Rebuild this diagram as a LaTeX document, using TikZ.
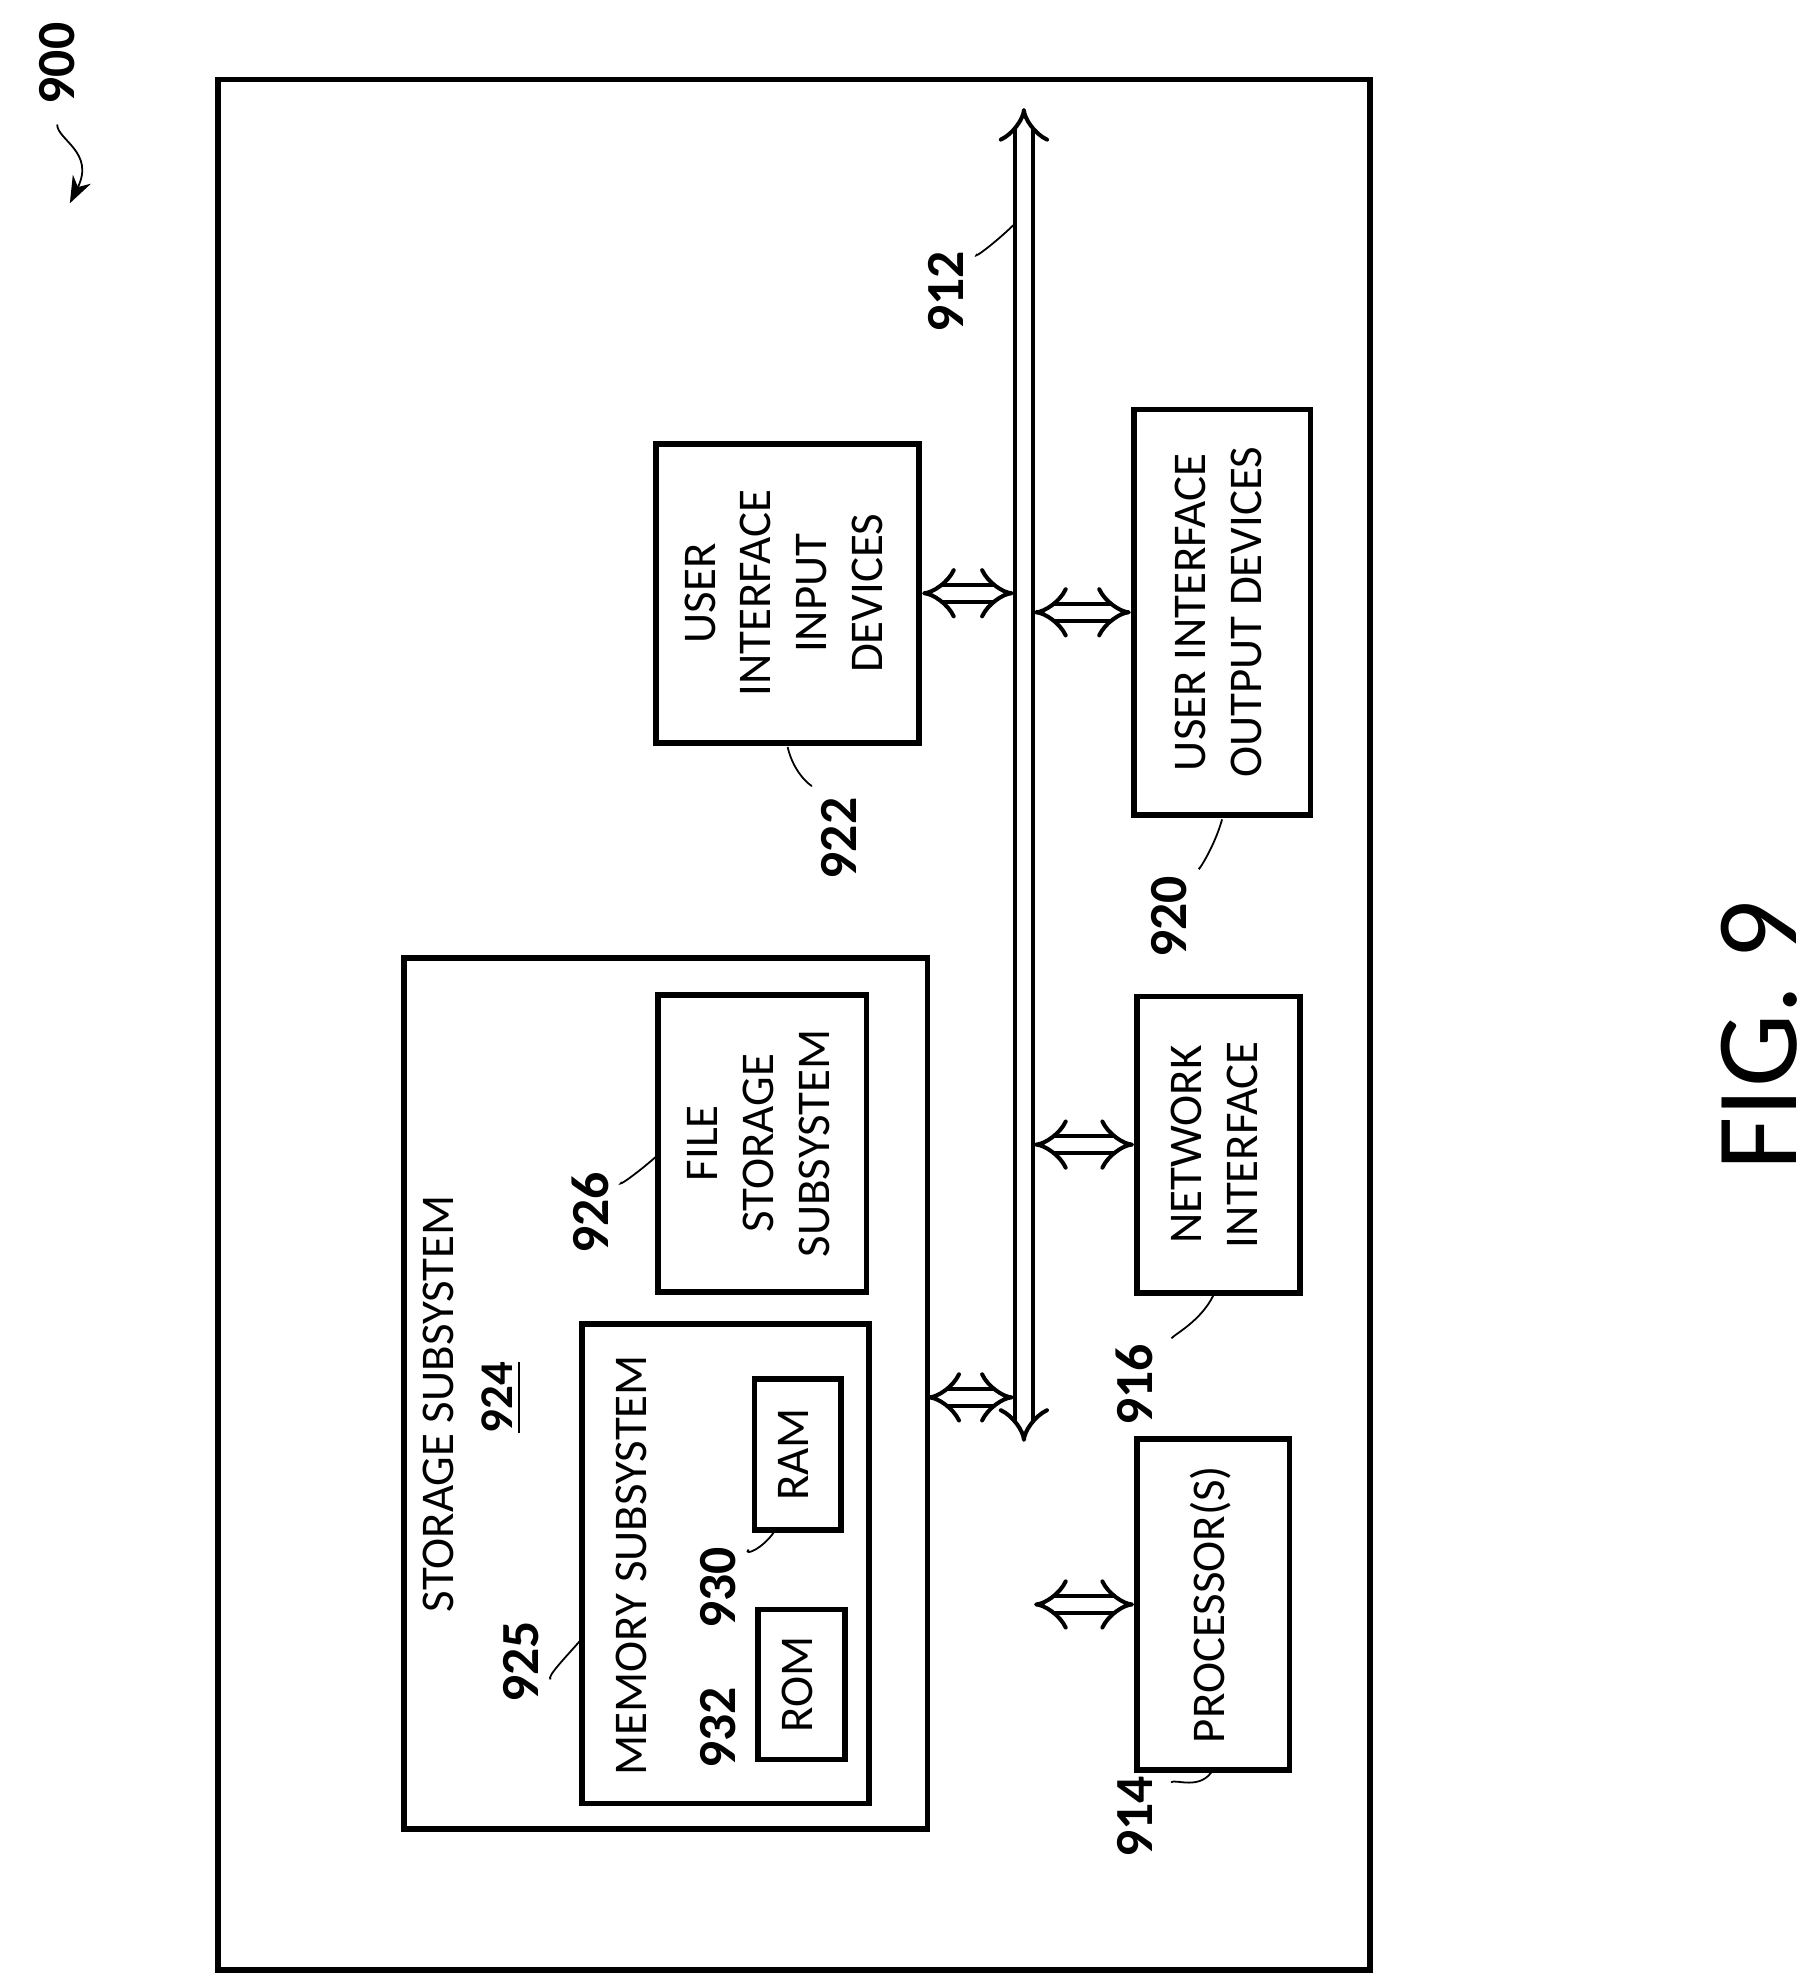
\documentclass[tikz,border=0pt]{standalone}
\usepackage{fontspec}
\setmainfont{Carlito}
\usetikzlibrary{arrows.meta, positioning}

\tikzset{
  box/.style={draw, line width=1.3pt, inner sep=0pt},
  bus/.style={double, double distance=3pt, line width=0.9pt, {Implies[length=5pt,width=9pt]}-{Implies[length=5pt,width=9pt]}},
  link/.style={bus},
  ref/.style={font=\fontsize{12}{14}\selectfont\bfseries, rotate=90},
  leader/.style={line width=0.4pt, shorten <=1pt}
}
\newcommand{\vtext}[1]{\rotatebox{90}{\begin{tabular}{c}#1\end{tabular}}}

\begin{document}
\begin{tikzpicture}[x=0.01cm, y=-0.01cm, font=\fontsize{10.5}{12.5}\selectfont]
  \useasboundingbox (0,0) rectangle (1420,1561);

  % frame and bus
  \node[box, minimum width=9.06cm, minimum height=14.87cm] (frame) at (625,806.5) {};
  \coordinate (bustop) at (806,85);
  \coordinate (busbot) at (806,1135);
  \draw[bus] (bustop) -- (busbot);

  % boxes
  \node[box, minimum width=2.07cm, minimum height=2.35cm] (uiin) at (620,467) {\vtext{USER\\INTERFACE\\INPUT\\DEVICES}};
  \node[box, minimum width=1.39cm, minimum height=3.19cm] (uiout) at (962,482) {\vtext{USER INTERFACE\\OUTPUT DEVICES}};
  \node[box, minimum width=1.28cm, minimum height=2.33cm] (net) at (959,901) {\vtext{NETWORK\\INTERFACE}};
  \node[box, minimum width=1.20cm, minimum height=2.53cm] (proc) at (955,1263) {\vtext{PROCESSOR(S)}};
  \node[box, minimum width=4.12cm, minimum height=6.85cm] (storage) at (524,1097) {};
  \node[rotate=90] (storagelbl) at (345,1105) {STORAGE SUBSYSTEM};
  \node[rotate=90] (storagenum) at (395,1100) {\underline{\textbf{924}}};
  \node[box, minimum width=1.64cm, minimum height=2.34cm] (file) at (600,900) {\vtext{FILE\\STORAGE\\SUBSYSTEM}};
  \node[box, minimum width=2.26cm, minimum height=3.77cm] (mem) at (571,1231) {};
  \node[rotate=90] (memlbl) at (497,1232) {MEMORY SUBSYSTEM};
  \node[box, minimum width=0.68cm, minimum height=1.19cm] (ram) at (628,1145) {\vtext{RAM}};
  \node[box, minimum width=0.68cm, minimum height=1.18cm] (rom) at (631,1326) {\vtext{ROM}};

  % links to bus
  \coordinate (stor) at (730,1100);
  \draw[link] (uiin.east) -- ([xshift=-0.08cm]uiin.east -| bustop);
  \draw[link] (stor) -- ([xshift=-0.08cm]stor -| bustop);
  \draw[link] ([xshift=0.08cm]uiout.west -| bustop) -- (uiout.west);
  \draw[link] ([xshift=0.08cm]net.west -| bustop) -- (net.west);
  \draw[link] ([xshift=0.08cm]proc.west -| bustop) -- (proc.west);

  % reference numerals
  \node[ref] (n900) at (45,50) {900};
  \draw[leader, -{Stealth[length=6pt]}] (n900) .. controls (45,110) and (75,120) .. (55,160);
  \node[ref] (n912) at (745,230) {912};
  \draw[leader] (n912) .. controls (765,205) and (785,190) .. (800,175);
  \node[ref] (n922) at (660,660) {922};
  \draw[leader] (n922) .. controls (640,620) and (625,610) .. (620,588);
  \node[ref] (n920) at (920,722) {920};
  \draw[leader] (n920) .. controls (940,690) and (955,670) .. (962,645);
  \node[ref] (n916) at (893,1090) {916};
  \draw[leader] (n916) .. controls (925,1050) and (945,1040) .. (955,1020);
  \node[ref] (n914) at (893,1430) {914};
  \draw[leader] (n914) .. controls (925,1400) and (945,1410) .. (955,1393);
  \node[ref] (n926) at (465,955) {926};
  \draw[leader] (n926) .. controls (485,935) and (500,925) .. (517,910);
  \node[ref] (n925) at (410,1308) {925};
  \draw[leader] (n925) .. controls (430,1320) and (445,1305) .. (458,1290);
  \node[ref] (n930) at (565,1250) {930};
  \draw[leader] (n930) .. controls (585,1225) and (600,1220) .. (610,1205);
  \node[ref] (n932) at (565,1360) {932};

  % figure label
  \node[rotate=90, font=\fontsize{26}{30}\selectfont] (fig) at (1385,815) {FIG. 9};
\end{tikzpicture}
\end{document}
